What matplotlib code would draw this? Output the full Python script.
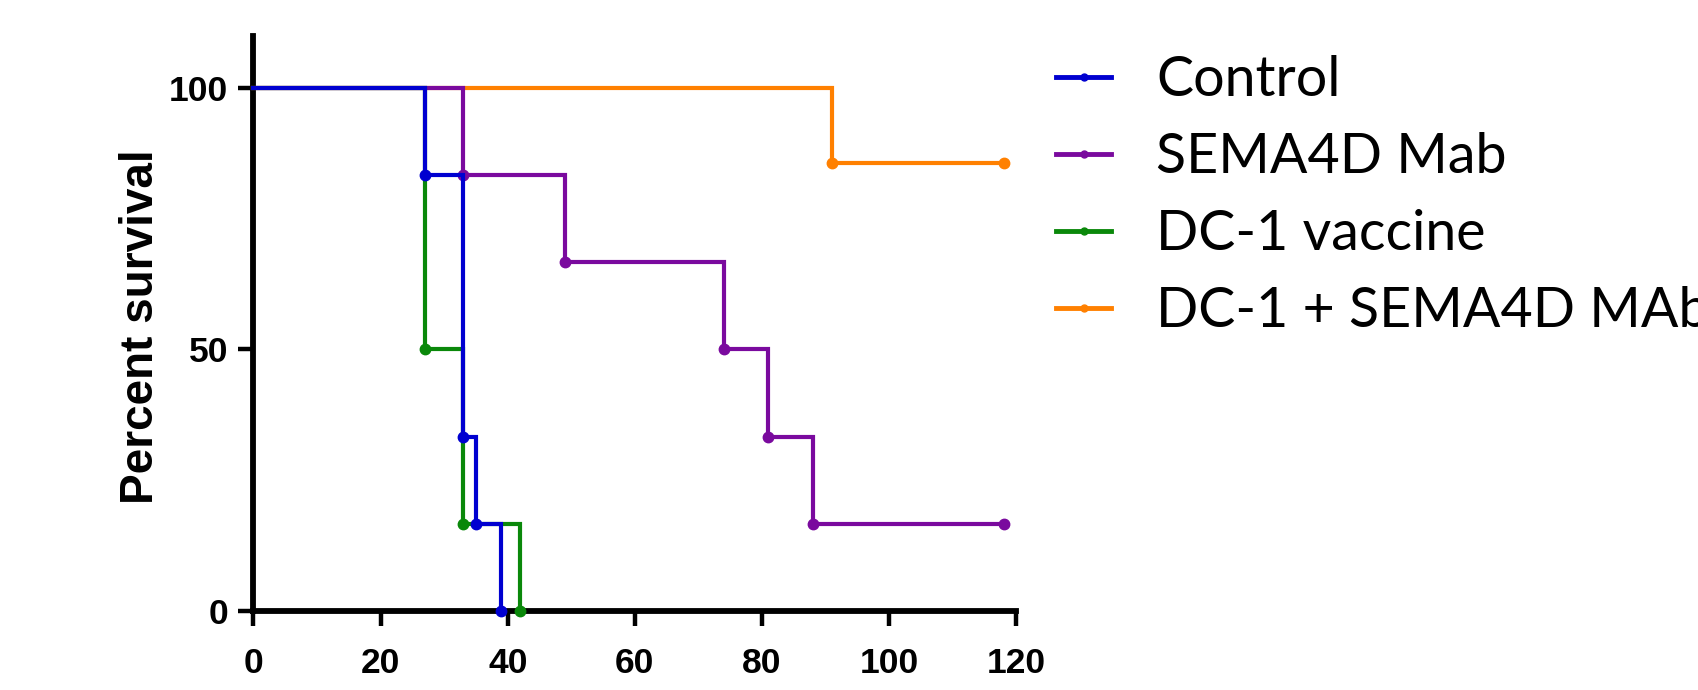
import matplotlib
matplotlib.use("Agg")
import matplotlib.pyplot as plt

# Kaplan-Meier steps (days, percent survival)
control_t = [0, 27, 33, 35, 39]
control_s = [100, 83.33, 33.33, 16.67, 0]

sema_t = [0, 33, 49, 74, 81, 88, 118]
sema_s = [100, 83.33, 66.67, 50, 33.33, 16.67, 16.67]

dc1_t = [0, 27, 33, 42]
dc1_s = [100, 50, 16.67, 0]

combo_t = [0, 91, 118]
combo_s = [100, 85.71, 85.71]

labels = ["Control", "SEMA4D Mab", "DC-1 vaccine", "DC-1 + SEMA4D MAb"]
colors = ["#0000D0", "#7A0A9E", "#0A880A", "#FF8000"]

xticks = [0, 20, 40, 60, 80, 100, 120]
yticks = [0, 50, 100]

fig = plt.figure(figsize=(16.99, 6.90), dpi=100)
ax = fig.add_axes([0.1492, 0.1149, 0.449, 0.8329])

series = [(control_t, control_s), (sema_t, sema_s), (dc1_t, dc1_s), (combo_t, combo_s)]
zorders = [5, 3, 4, 2]   # blue drawn on top, orange at the bottom
handles = []
for (t, s), lab, col, z in zip(series, labels, colors, zorders):
    ax.step(t, s, where="post", color=col, lw=3.0, zorder=z, clip_on=False,
            solid_joinstyle="miter")
    ax.plot(t[1:], s[1:], "o", color=col, ms=7.5, zorder=z, clip_on=False)
    h, = ax.plot([], [], "-o", color=col, lw=3.5, ms=5, label=lab)
    handles.append(h)

ax.set_xlim(0, 120)
ax.set_ylim(0, 110)
ax.set_xticks(xticks)
ax.set_yticks(yticks)

for sp in ["top", "right"]:
    ax.spines[sp].set_visible(False)
for sp in ["left", "bottom"]:
    ax.spines[sp].set_linewidth(4.2)
    ax.spines[sp].set_zorder(1)

ax.tick_params(axis="both", direction="out", length=11, width=3.2, color="black")
ax.tick_params(axis="x", pad=15)
ax.tick_params(axis="y", pad=7)
for lbl in ax.get_xticklabels() + ax.get_yticklabels():
    lbl.set_fontfamily("Liberation Sans")
    lbl.set_fontweight("bold")
    lbl.set_fontsize(25.5)

fig.text(141 / 1699, 1 - 327 / 690, "Percent survival", rotation=90,
         ha="center", va="center", fontfamily="Liberation Sans",
         fontweight="bold", fontsize=33)

leg = ax.legend(handles=handles, loc="upper left",
                bbox_to_anchor=(1056 / 1699, 1 - 55 / 690),
                bbox_transform=fig.transFigure, frameon=False,
                prop={"family": "Lato", "size": 40},
                handlelength=0.99, handletextpad=0.81, labelspacing=0.47,
                borderpad=0, borderaxespad=0)

fig.savefig("out.png", dpi=100)
